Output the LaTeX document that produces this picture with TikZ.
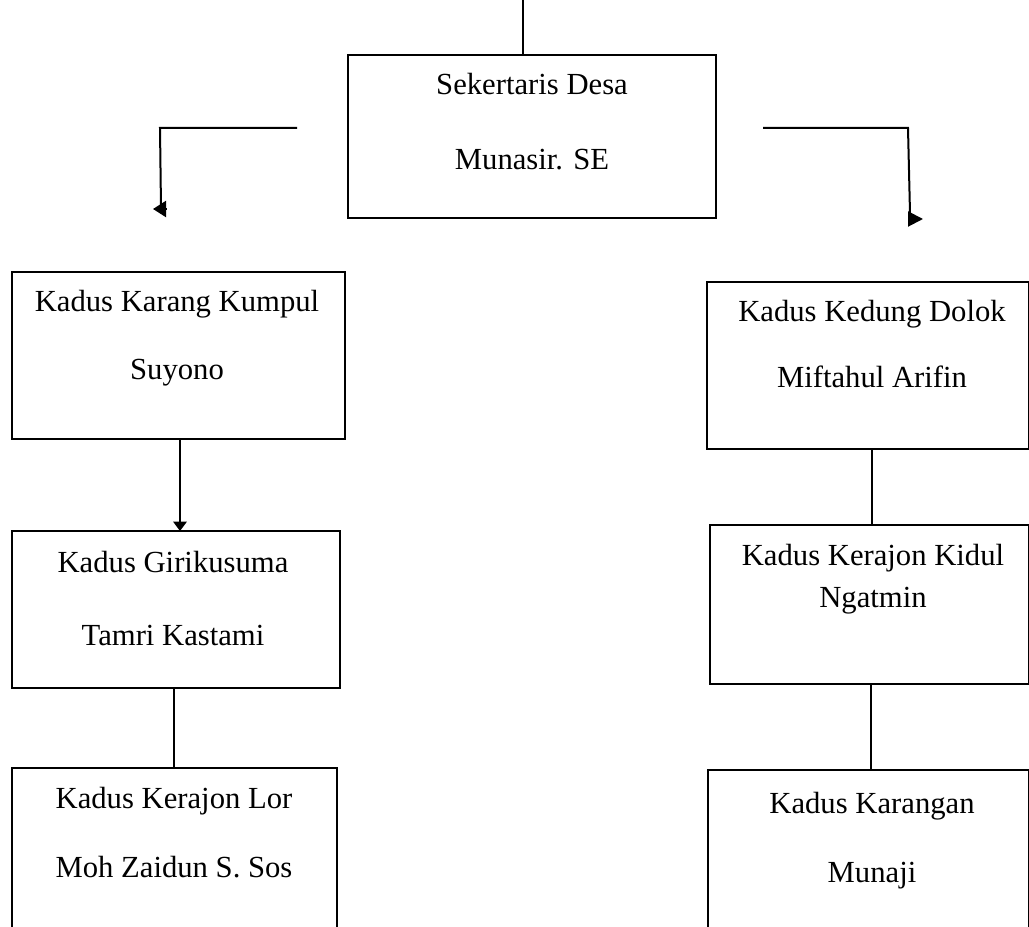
\documentclass[tikz,border=0pt]{standalone}
\usepackage{fontspec}
\setmainfont{Liberation Serif}
\usetikzlibrary{arrows.meta}
\begin{document}
\begin{tikzpicture}[x=0.75pt,y=-0.75pt,
  box/.style={draw, line width=1.5pt, rectangle, inner sep=0pt, outer sep=0pt, anchor=north west},
  lbl/.style={anchor=base, inner sep=0pt, font=\fontsize{23}{27}\selectfont},
  conn/.style={line width=1.5pt},
  tipL/.style={-{Triangle[length=9.75pt,width=12pt]}, line width=1.5pt},
  tipR/.style={-{Triangle[length=11.25pt,width=11.25pt]}, line width=1.5pt},
  tipD/.style={-{Triangle[length=7pt,width=10pt]}, line width=1.5pt},
]
\clip (0,0) rectangle (1029,927);
% boxes
\node[box, minimum width=276pt, minimum height=122.25pt] (sek) at (348,55) {};
\node[box, minimum width=249.75pt, minimum height=125.25pt] (kk) at (12,272) {};
\node[box, minimum width=246pt, minimum height=117.75pt] (giri) at (12,531) {};
\node[box, minimum width=243.75pt, minimum height=135pt] (lor) at (12,768) {};
\node[box, minimum width=241.5pt, minimum height=125.25pt] (kd) at (707,282) {};
\node[box, minimum width=239.25pt, minimum height=119.25pt] (kkid) at (710,525) {};
\node[box, minimum width=240.75pt, minimum height=135pt] (kar) at (708,770) {};
% texts
\node[lbl] (sek1) at (532,95) {Sekertaris Desa};
\node[lbl] (sek2) at (532,170) {Munasir. SE};
\node[lbl] (kk1) at (177,312) {Kadus Karang Kumpul};
\node[lbl] (kk2) at (177,380) {Suyono};
\node[lbl] (giri1) at (173,572) {Kadus Girikusuma};
\node[lbl] (giri2) at (173,645) {Tamri Kastami};
\node[lbl] (lor1) at (174,808) {Kadus Kerajon Lor};
\node[lbl] (lor2) at (174,877) {Moh Zaidun S. Sos};
\node[lbl] (kd1) at (872,322) {Kadus Kedung Dolok};
\node[lbl] (kd2) at (872,388) {Miftahul Arifin};
\node[lbl] (kkid1) at (873,565) {Kadus Kerajon Kidul};
\node[lbl] (kkid2) at (873,607) {Ngatmin};
\node[lbl] (kar1) at (872,813) {Kadus Karangan};
\node[lbl] (kar2) at (872,882) {Munaji};
% connectors
\coordinate (topend) at (523,0);
\draw[conn] (topend) -- (topend |- sek.north);
\coordinate (l1) at (297,128);
\coordinate (l2) at (160,128);
\coordinate (l3) at (161,208);
\draw[conn] (l1) -- (l2) -- (l3);
\coordinate (lt0) at (166,209);
\coordinate (lt1) at (153,209);
\draw[tipL] (lt0) -- (lt1);
\coordinate (r1) at (763,128);
\coordinate (r2) at (908,128);
\coordinate (r3) at (910,213);
\draw[conn] (r1) -- (r2) -- (r3);
\coordinate (rt0) at (908,219);
\coordinate (rt1) at (923,219);
\draw[tipR] (rt0) -- (rt1);
\coordinate (ax) at (180,0);
\coordinate (bx) at (174,0);
\coordinate (cx) at (872,0);
\coordinate (dx) at (871,0);
\draw[tipD] (kk.south -| ax) -- (giri.north -| ax);
\draw[conn] (giri.south -| bx) -- (lor.north -| bx);
\draw[conn] (kd.south -| cx) -- (kkid.north -| cx);
\draw[conn] (kkid.south -| dx) -- (kar.north -| dx);
\end{tikzpicture}
\end{document}
